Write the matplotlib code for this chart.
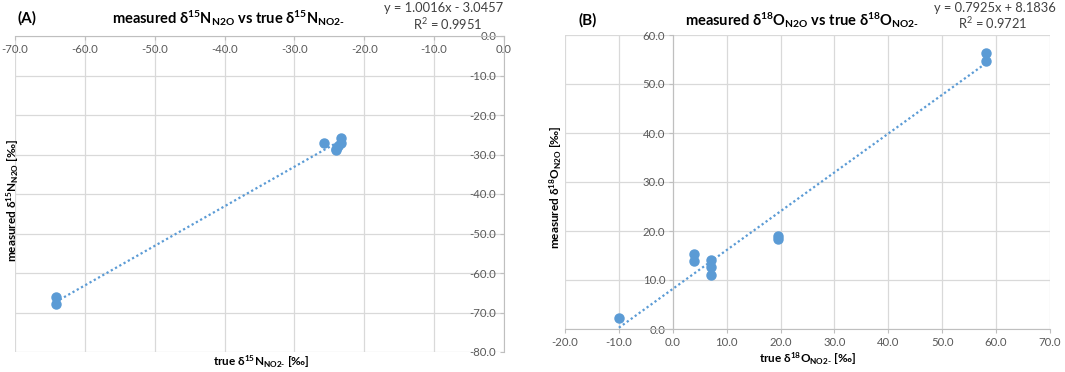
import numpy as np
import matplotlib
matplotlib.use('Agg')
import matplotlib.pyplot as plt

plt.rcParams['font.family'] = ['Lato', 'DejaVu Sans']
plt.rcParams['mathtext.fontset'] = 'custom'
plt.rcParams['mathtext.rm'] = 'Lato'
plt.rcParams['mathtext.bf'] = 'Lato:bold'
plt.rcParams['mathtext.it'] = 'Lato:italic'
plt.rcParams['mathtext.fallback'] = 'stixsans'
plt.rcParams['axes.unicode_minus'] = False

# panel A: delta 15N
true_n = [-64.2, -64.2, -25.7, -23.3, -23.4, -23.7, -24.0, -24.1]
meas_n = [-66.1, -67.8, -27.0, -25.8, -27.2, -27.9, -28.5, -28.9]
fit_n = (1.0016, -3.0457)
r2_n = 0.9951

# panel B: delta 18O
true_o = [-10.0, 3.9, 3.9, 7.0, 7.0, 7.0, 19.6, 19.6, 58.1, 58.1]
meas_o = [2.2, 15.4, 13.8, 14.0, 12.6, 11.1, 18.9, 18.3, 56.4, 54.6]
fit_o = (0.7925, 8.1836)
r2_o = 0.9721

xticks_a = np.arange(-70, 1, 10)
yticks_a = np.arange(-80, 1, 10)
xticks_b = np.arange(-20, 71, 10)
yticks_b = np.arange(0, 61, 10)

BLUE = '#5B9BD5'
GRID = '#d9d9d9'
AXC = '#bfbfbf'
TXT = '#595959'
EQC = '#404040'
HY = '\u2010'  # plain hyphen for the NO2- subscript

fig = plt.figure(figsize=(10.65, 3.72), dpi=100)
axA = fig.add_axes([15/1065, 20/372, 489/1065, 316/372])
axB = fig.add_axes([565/1065, 43/372, 485/1065, 294/372])


def style(ax, xt, yt):
    ax.set_xlim(xt[0], xt[-1])
    ax.set_ylim(yt[0], yt[-1])
    ax.set_xticks(xt)
    ax.set_yticks(yt)
    ax.set_xticklabels([f'{v:.1f}' for v in xt])
    ax.set_yticklabels([f'{v:.1f}' for v in yt])
    ax.grid(True, color=GRID, linewidth=0.9)
    ax.set_axisbelow(True)
    for s in ['top', 'right']:
        ax.spines[s].set_visible(False)
    for s in ['bottom', 'left']:
        ax.spines[s].set_position(('data', 0))
        ax.spines[s].set_color(AXC)
        ax.spines[s].set_zorder(1)
    ax.tick_params(colors=AXC, labelcolor=TXT, labelsize=8.2, length=3, width=0.8, pad=2.5)
    for lab in ax.get_xticklabels() + ax.get_yticklabels():
        lab.set_clip_on(False)


def draw(ax, x, y, fit):
    x = np.asarray(x)
    xs = np.array([x.min(), x.max()])
    ax.plot(xs, fit[0] * xs + fit[1], linestyle=(0, (1, 1.2)), color=BLUE, linewidth=1.6, zorder=3)
    ax.plot(x, y, 'o', color=BLUE, markersize=6.5, zorder=4, clip_on=False)


style(axA, xticks_a, yticks_a)
draw(axA, true_n, meas_n, fit_n)
style(axB, xticks_b, yticks_b)
draw(axB, true_o, meas_o, fit_o)

# titles and labels
fig.text(27/1065, 1 - 18/372, '(A)', ha='center', va='center', fontsize=11, fontweight='bold')
fig.text(228/1065, 1 - 18/372,
         r'measured δ$^{\mathbf{15}}$N$_{\mathbf{N2O}}$ vs true δ$^{\mathbf{15}}$N$_{\mathbf{NO2' + HY + '}}$',
         ha='center', va='center', fontsize=10.5, fontweight='bold')
fig.text(444/1065, 1 - 8/372, f'y = {fit_n[0]:.4f}x - {abs(fit_n[1]):.4f}',
         ha='center', va='center', fontsize=9.3, color=EQC)
fig.text(448/1065, 1 - 24/372, f'R$^2$ = {r2_n:.4f}',
         ha='center', va='center', fontsize=9.3, color=EQC)
fig.text(261/1065, 1 - 362/372, r'true δ$^{\mathbf{15}}$N$_{\mathbf{NO2' + HY + '}}$ [‰]',
         ha='center', va='center', fontsize=8.5, fontweight='bold')
fig.text(13/1065, 1 - 200/372, r'measured δ$^{\mathbf{15}}$N$_{\mathbf{N2O}}$ [‰]',
         ha='center', va='center', fontsize=8.5, fontweight='bold', rotation=90)

fig.text(588/1065, 1 - 20/372, '(B)', ha='center', va='center', fontsize=11, fontweight='bold')
fig.text(802/1065, 1 - 20/372,
         r'measured δ$^{\mathbf{18}}$O$_{\mathbf{N2O}}$ vs true δ$^{\mathbf{18}}$O$_{\mathbf{NO2' + HY + '}}$',
         ha='center', va='center', fontsize=10.5, fontweight='bold')
fig.text(995/1065, 1 - 8/372, f'y = {fit_o[0]:.4f}x + {fit_o[1]:.4f}',
         ha='center', va='center', fontsize=9.3, color=EQC)
fig.text(993/1065, 1 - 23/372, f'R$^2$ = {r2_o:.4f}',
         ha='center', va='center', fontsize=9.3, color=EQC)
fig.text(807/1065, 1 - 359/372, r'true δ$^{\mathbf{18}}$O$_{\mathbf{NO2' + HY + '}}$ [‰]',
         ha='center', va='center', fontsize=8.5, fontweight='bold')
fig.text(556/1065, 1 - 187/372, r'measured δ$^{\mathbf{18}}$O$_{\mathbf{N2O}}$ [‰]',
         ha='center', va='center', fontsize=8.5, fontweight='bold', rotation=90)

fig.savefig('out.png', dpi=100)
